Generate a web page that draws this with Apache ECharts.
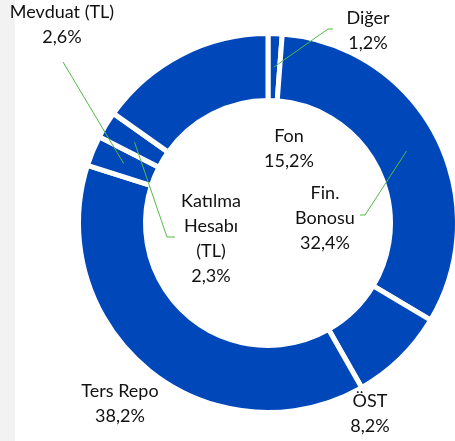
<!DOCTYPE html>
<html>
<head>
<meta charset="utf-8">
<script src="https://cdn.jsdelivr.net/npm/echarts@6/dist/echarts.min.js"></script>
<style>
    html, body { margin: 0; padding: 0; }
    body { background: linear-gradient(to right, #f2f2f2 15px, #ffffff 15px); }
    #chart { width: 455px; height: 441px; }
</style>
</head>
<body>
<div id="chart"></div>
<script>
// dagilim (saat yonunde, tepeden baslayarak)
var names = ['Diğer', 'Fin.\nBonosu', 'ÖST', 'Ters Repo', 'Mevduat (TL)', 'Katılma\nHesabı\n(TL)', 'Fon'];
var shares = [1.2, 32.4, 8.2, 38.2, 2.6, 2.3, 15.2];
var hasLine = [true, true, false, false, true, true, false];

// etiket yerlesimi
var labelPos = [[368, 31], [325, 218], [370, 414], [120, 404], [62, 25], [211, 239], [289, 149]];
var lineBends = [[[328, 29], [333, 29]], [[365, 215], [360, 215]], null, null, [[63, 62], [63, 62]], [[167, 237], [175, 237]], null];

var cx = 268, cy = 223, rIn = 125, rOut = 187, gap = 5;
var total = 0;
for (var i = 0; i < shares.length; i++) total += shares[i];

// dilimin ortasindaki nokta
function sliceAnchor(idx) {
    var before = 0;
    for (var k = 0; k < idx; k++) before += shares[k];
    var a = (before + shares[idx] / 2) / total * Math.PI * 2;
    var r = (rIn + rOut) / 2;
    return [cx + r * Math.sin(a), cy - r * Math.cos(a)];
}

var pieData = [];
var labelData = [];
for (var j = 0; j < names.length; j++) {
    pieData.push({ name: names[j], value: shares[j] });
    labelData.push({
        name: names[j],
        value: shares[j],
        labelLine: { show: hasLine[j] }
    });
}

var chart = echarts.init(document.getElementById('chart'), null, { renderer: 'canvas' });
chart.setOption({
    backgroundColor: 'transparent',
    animation: false,
    series: [{
        // dilimler
        type: 'pie',
        z: 2,
        center: [cx, cy],
        radius: [rIn - gap / 2, rOut + gap / 2],
        startAngle: 90,
        clockwise: true,
        silent: true,
        itemStyle: {
            color: '#0048b9',
            borderColor: '#ffffff',
            borderWidth: gap
        },
        emphasis: { disabled: true },
        label: { show: false },
        labelLine: { show: false },
        data: pieData
    }, {
        // etiketler ve cizgiler (dilimlerin ustunde)
        type: 'pie',
        z: 3,
        center: [cx, cy],
        radius: [rIn - gap / 2, rOut + gap / 2],
        startAngle: 90,
        clockwise: true,
        silent: true,
        avoidLabelOverlap: false,
        itemStyle: {
            color: 'rgba(0,0,0,0)',
            borderWidth: 0
        },
        emphasis: { disabled: true },
        label: {
            show: true,
            position: 'outside',
            fontFamily: 'Lato',
            fontSize: 18,
            lineHeight: 25,
            color: '#111111',
            align: 'center',
            formatter: function (p) {
                return p.name + '\n' + p.value.toFixed(1).replace('.', ',') + '%';
            }
        },
        labelLine: {
            show: true,
            lineStyle: { color: '#55b847', width: 1 }
        },
        labelLayout: function (params) {
            var idx = params.dataIndex;
            var out = {
                x: labelPos[idx][0],
                y: labelPos[idx][1],
                align: 'center',
                verticalAlign: 'middle'
            };
            if (lineBends[idx]) {
                out.labelLinePoints = [sliceAnchor(idx), lineBends[idx][0], lineBends[idx][1]];
            }
            return out;
        },
        data: labelData
    }]
});
</script>
</body>
</html>
